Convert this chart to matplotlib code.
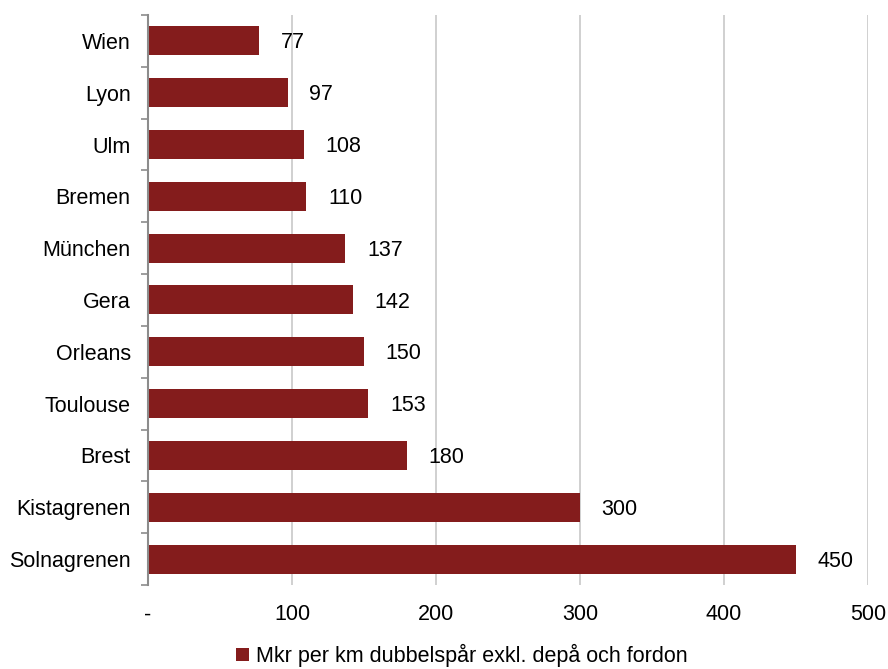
import matplotlib
matplotlib.use("Agg")
import matplotlib.pyplot as plt
import numpy as np

plt.rcParams['font.family'] = ['Liberation Sans', 'DejaVu Sans']

# data (top to bottom)
cities = ["Wien", "Lyon", "Ulm", "Bremen", "München", "Gera", "Orleans",
          "Toulouse", "Brest", "Kistagrenen", "Solnagrenen"]
values = [77, 97, 108, 110, 137, 142, 150, 153, 180, 300, 450]
xticks = [0, 100, 200, 300, 400, 500]
xticklabels = ["-", "100", "200", "300", "400", "500"]
series_name = "Mkr per km dubbelspår exkl. depå och fordon"

bar_color = "#841C1C"
fs = 15.5

fig = plt.figure(figsize=(8.88, 6.69), dpi=100)
ax = fig.add_axes([0.1667, 0.1256, 0.8108, 0.852])

y = np.arange(len(cities))
ax.barh(y, values, height=0.56, color=bar_color, label=series_name, zorder=3)

for yi, v in zip(y, values):
    ax.text(v + 15, yi + 0.04, str(v), va="center", ha="left", fontsize=fs, color="black")

ax.set_xlim(0, 500)
ax.set_ylim(len(cities) - 0.5, -0.5)
ax.set_yticks(y)
ax.set_yticklabels(cities, fontsize=fs)
ax.set_yticks(np.arange(len(cities) + 1) - 0.5, minor=True)
ax.tick_params(axis="y", which="major", length=0, pad=12.5)
ax.tick_params(axis="y", which="minor", length=5, width=1.2, color="#8C8C8C", direction="out")

ax.set_xticks(xticks)
ax.set_xticklabels(xticklabels, fontsize=fs)
ax.tick_params(axis="x", length=0, pad=14)
ax.grid(axis="x", color="#C8C8C8", linewidth=1.2, zorder=0)

for s in ["top", "right", "bottom"]:
    ax.spines[s].set_visible(False)
ax.spines["left"].set_color("#8C8C8C")
ax.spines["left"].set_linewidth(1.5)
ax.spines["left"].set_zorder(4)

fig.legend(loc="center", bbox_to_anchor=(0.52, 0.02), frameon=False,
           fontsize=fs, handlelength=0.6, handleheight=0.6, handletextpad=0.3)

fig.savefig("out.png", dpi=100)
